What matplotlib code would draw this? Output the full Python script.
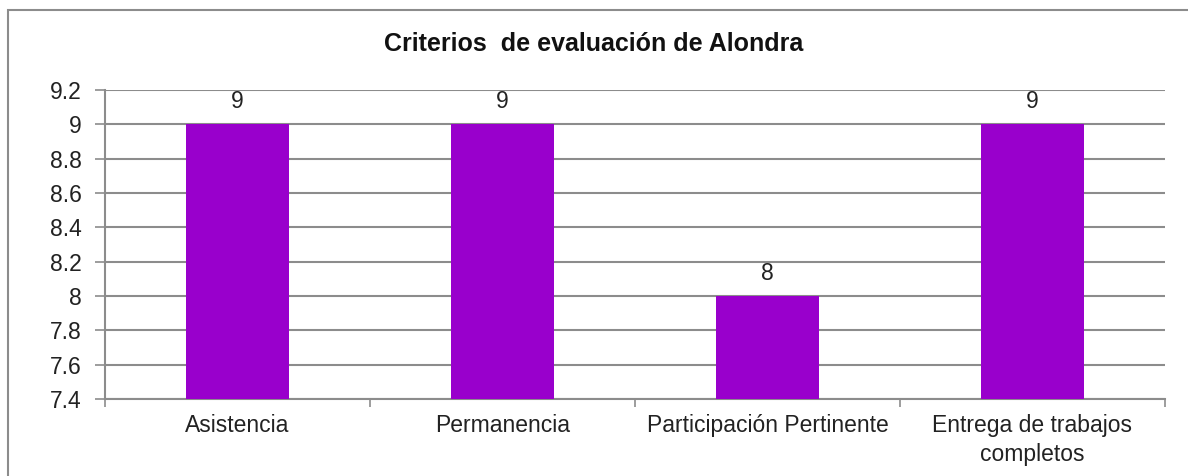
import numpy as np
import matplotlib.pyplot as plt
from matplotlib.patches import Rectangle

# datos del gráfico
categorias = ["Asistencia", "Permanencia", "Participación Pertinente",
              "Entrega de trabajos\ncompletos"]
valores = [9, 9, 8, 9]
y_ticks = [7.4, 7.6, 7.8, 8, 8.2, 8.4, 8.6, 8.8, 9, 9.2]
y_labels = ["7.4", "7.6", "7.8", "8", "8.2", "8.4", "8.6", "8.8", "9", "9.2"]

plt.rcParams['font.family'] = ['Liberation Sans', 'DejaVu Sans']

fig = plt.figure(figsize=(11.88, 4.76), dpi=100)
fig.patch.set_facecolor('white')

# marco exterior
fig.patches.append(Rectangle((8/1188, -0.05), 1.1, 1 - 10/476 + 0.05,
                             transform=fig.transFigure, fill=False,
                             edgecolor='#8c8c8c', linewidth=1.5))

ax = fig.add_axes([105/1188, 1 - 399/476, 1060/1188, 309/476])

x = np.arange(len(categorias))
ax.bar(x, valores, width=0.39, color='#9900cc', zorder=3)
ax.set_ylim(7.4, 9.2)
ax.set_xlim(-0.5, len(categorias) - 0.5)

for xi, v in zip(x, valores):
    ax.annotate(str(v), (xi, v), xytext=(0, 8), textcoords='offset points',
                ha='center', va='bottom', fontsize=16.5, color='#222222')

ax.set_yticks(y_ticks)
ax.set_yticklabels(y_labels, fontsize=16.5, color='#222222')
ax.yaxis.grid(True, color='#8c8c8c', linewidth=1.5, zorder=0)
ax.tick_params(axis='y', length=7, width=1.2, color='#8c8c8c', pad=10)

ax.set_xticks(x)
ax.set_xticklabels(categorias, fontsize=16.5, color='#222222', linespacing=1.3)
ax.set_xticks(np.arange(-0.5, len(categorias)), minor=True)
ax.tick_params(axis='x', which='major', length=0, pad=11)
ax.tick_params(axis='x', which='minor', length=6, width=1.2, color='#8c8c8c')

for s in ['top', 'right']:
    ax.spines[s].set_visible(False)
for s in ['left', 'bottom']:
    ax.spines[s].set_color('#8c8c8c')
    ax.spines[s].set_linewidth(1.5)

fig.text(0.5, 1 - 44/476, "Criterios  de evaluación de Alondra",
         ha='center', va='center', fontsize=18, fontweight='bold',
         color='#111111')

fig.savefig('out.png', dpi=100, facecolor='white')
